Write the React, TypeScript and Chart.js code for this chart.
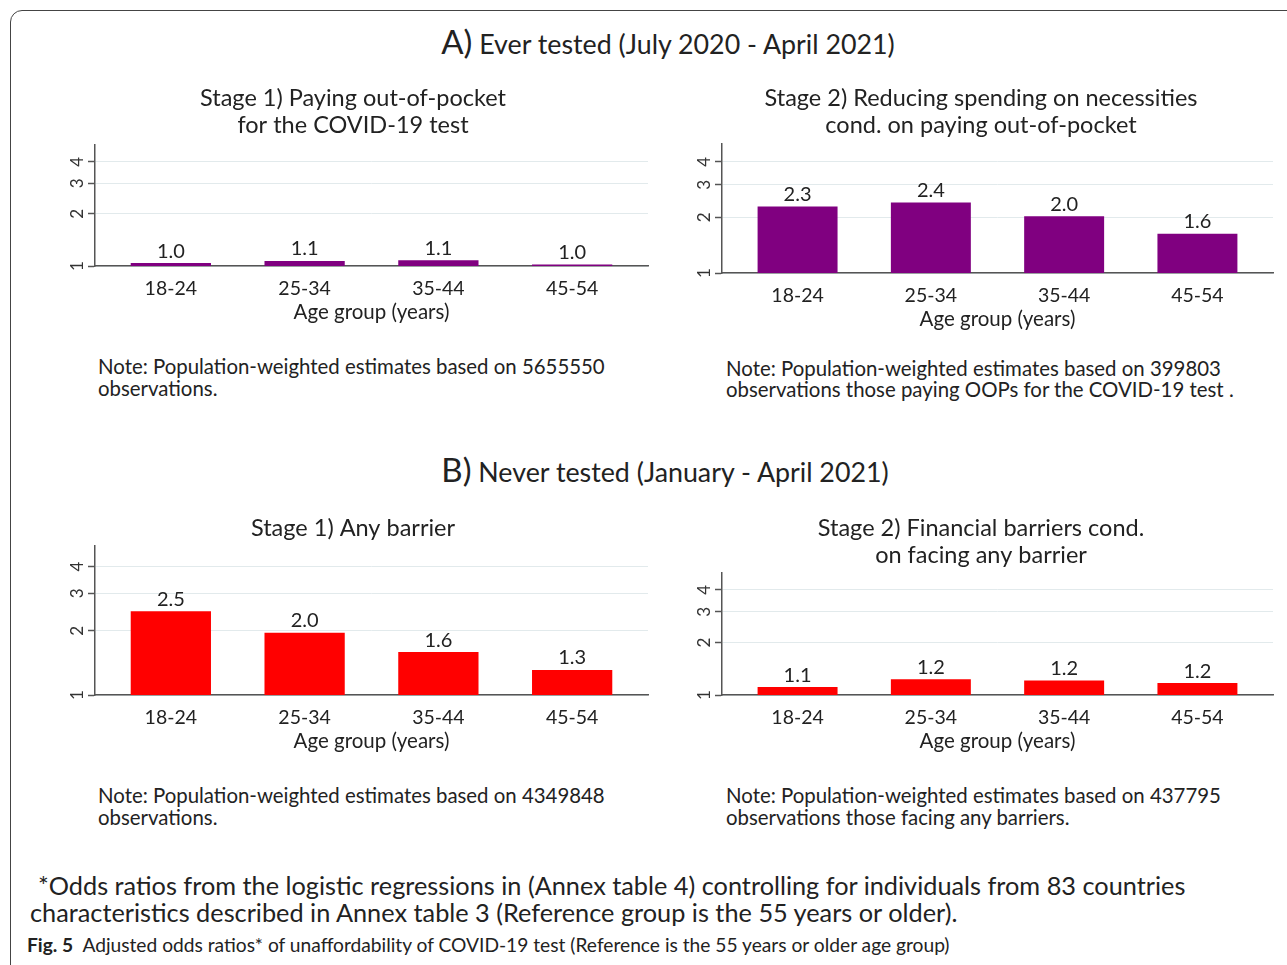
import React, { useEffect, useRef } from "react";
import { Chart, registerables } from "chart.js";

Chart.register(...registerables);

// ---- Data ----
const ageGroups = ["18-24", "25-34", "35-44", "45-54"];
const yTickValues = [1, 2, 3, 4];
const everTestedStage1 = [1.04, 1.07, 1.08, 1.02];
const everTestedStage2 = [2.29, 2.41, 2.03, 1.63];
const neverTestedStage1 = [2.47, 1.96, 1.59, 1.31];
const neverTestedStage2 = [1.11, 1.23, 1.21, 1.17];
const yMin = 1;
const yMax = 5;

const FONT = "Lato, 'Open Sans', sans-serif";
const TEXT = "#222";
const PURPLE = "#800080";
const RED = "#ff0000";

type Box = {
  x: number;
  y: number;
  w: number;
  h: number;
  yAxisW: number;
  padRight: number;
  titleTop: number;
  titleBottom: number;
};

function BarPanel({ values, color, title, box }: { values: number[]; color: string; title: string[]; box: Box }) {
  const ref = useRef<HTMLCanvasElement | null>(null);
  useEffect(() => {
    const labelPlugin = {
      id: "barLabels",
      afterDatasetsDraw(chart: any) {
        const ctx = chart.ctx;
        const meta = chart.getDatasetMeta(0);
        ctx.save();
        ctx.font = `20px ${FONT}`;
        ctx.fillStyle = TEXT;
        ctx.textAlign = "center";
        ctx.textBaseline = "middle";
        meta.data.forEach((bar: any, i: number) => {
          ctx.fillText(values[i].toFixed(1), bar.x, bar.y - 12);
        });
        ctx.restore();
      },
    };
    const chart = new Chart(ref.current as HTMLCanvasElement, {
      type: "bar",
      data: {
        datasets: [
          {
            data: values.map((v, i) => ({ x: i, y: v })),
            backgroundColor: color,
            borderWidth: 0,
            categoryPercentage: 1,
            barPercentage: 0.6,
          } as any,
        ],
      },
      options: {
        animation: false,
        responsive: false,
        maintainAspectRatio: false,
        layout: { padding: { left: 0, right: box.padRight, top: 0, bottom: 0 } },
        plugins: {
          legend: { display: false },
          tooltip: { enabled: false },
          title: {
            display: true,
            text: title,
            color: TEXT,
            font: { family: FONT, size: 23.5, lineHeight: 27 / 23.5, weight: "normal" as any },
            padding: { top: box.titleTop, bottom: box.titleBottom },
          },
        },
        scales: {
          x: {
            type: "linear",
            offset: false,
            min: -0.567,
            max: 3.567,
            afterBuildTicks: (s: any) => {
              s.ticks = ageGroups.map((_, i) => ({ value: i }));
            },
            afterFit: (s: any) => {
              s.height = 59;
            },
            grid: { display: false, drawTicks: false, offset: false },
            border: { display: true, color: "#555", width: 1.5 },
            ticks: {
              padding: 11,
              autoSkip: false,
              maxRotation: 0,
              color: TEXT,
              font: { family: FONT, size: 19.5 },
              callback: (v: any) => ageGroups[v as number] ?? "",
            },
            title: {
              display: true,
              text: "Age group (years)",
              color: TEXT,
              font: { family: FONT, size: 20.5 },
              padding: { top: 0, bottom: 0 },
            },
          } as any,
          y: {
            type: "logarithmic",
            min: yMin,
            max: yMax,
            afterBuildTicks: (s: any) => {
              s.ticks = yTickValues.map((v) => ({ value: v }));
            },
            afterFit: (s: any) => {
              s.width = box.yAxisW;
            },
            grid: { color: "#e2eaec", lineWidth: 1, tickColor: "#555", tickLength: 7, tickWidth: 1.5 },
            border: { display: true, color: "#555", width: 1.5 },
            ticks: {
              minRotation: 90,
              maxRotation: 90,
              crossAlign: "center",
              padding: 6,
              color: "#333",
              font: { family: FONT, size: 17 },
              callback: (v: any) => String(v),
            },
          } as any,
        },
      },
      plugins: [labelPlugin],
    });
    return () => chart.destroy();
  }, []);
  return (
    <canvas
      ref={ref}
      width={box.w}
      height={box.h}
      style={{ position: "absolute", left: box.x, top: box.y, width: box.w, height: box.h }}
    />
  );
}

const textStyle = (left: number, top: number, size: number, lh: number): React.CSSProperties => ({
  position: "absolute",
  left,
  top,
  fontFamily: FONT,
  fontSize: size,
  lineHeight: `${lh}px`,
  color: TEXT,
  whiteSpace: "nowrap",
});

function Heading({ big, rest, center, top }: { big: string; rest: string; center: number; top: number }) {
  return (
    <div
      style={{
        position: "absolute",
        left: center - 400,
        width: 800,
        top,
        textAlign: "center",
        fontFamily: FONT,
        color: TEXT,
        lineHeight: "40px",
        whiteSpace: "nowrap",
      }}
    >
      <span style={{ fontSize: 33 }}>{big}</span>
      <span style={{ fontSize: 26.8 }}> {rest}</span>
    </div>
  );
}

export default function App() {
  return (
    <div style={{ position: "absolute", left: 0, top: 0, width: 1287, height: 965, overflow: "hidden", background: "#fff" }}>
      <div
        style={{
          position: "absolute",
          left: 10,
          top: 10,
          width: 1320,
          height: 1000,
          border: "1px solid #444",
          borderRadius: 12,
          boxSizing: "border-box",
        }}
      />
      <Heading big="A)" rest="Ever tested (July 2020 - April 2021)" center={668} top={21} />
      <BarPanel
        values={everTestedStage1}
        color={PURPLE}
        title={["Stage 1) Paying out-of-pocket", "for the COVID-19 test"]}
        box={{ x: 58, y: 80, w: 600, h: 245, yAxisW: 37, padRight: 10, titleTop: 4.5, titleBottom: 6.5 }}
      />
      <BarPanel
        values={everTestedStage2}
        color={PURPLE}
        title={["Stage 2) Reducing spending on necessities", "cond. on paying out-of-pocket"]}
        box={{ x: 689, y: 80, w: 598, h: 252, yAxisW: 33, padRight: 14, titleTop: 4.5, titleBottom: 5.5 }}
      />
      <div style={textStyle(98, 355, 20.4, 22)}>
        Note: Population-weighted estimates based on 5655550
        <br />
        observations.
      </div>
      <div style={textStyle(726, 358, 20.4, 21)}>
        Note: Population-weighted estimates based on 399803
        <br />
        observations those paying OOPs for the COVID-19 test .
      </div>

      <Heading big="B)" rest="Never tested (January - April 2021)" center={665} top={449} />
      <BarPanel
        values={neverTestedStage1}
        color={RED}
        title={["Stage 1) Any barrier"]}
        box={{ x: 58, y: 510, w: 600, h: 244, yAxisW: 37, padRight: 10, titleTop: 4.5, titleBottom: 4.5 }}
      />
      <BarPanel
        values={neverTestedStage2}
        color={RED}
        title={["Stage 2) Financial barriers cond.", "on facing any barrier"]}
        box={{ x: 689, y: 510, w: 598, h: 244, yAxisW: 33, padRight: 14, titleTop: 4.5, titleBottom: 4.5 }}
      />
      <div style={textStyle(98, 784, 20.4, 22)}>
        Note: Population-weighted estimates based on 4349848
        <br />
        observations.
      </div>
      <div style={textStyle(726, 784, 20.4, 22)}>
        Note: Population-weighted estimates based on 437795
        <br />
        observations those facing any barriers.
      </div>

      <div style={textStyle(38, 871, 25.3, 28)}>
        *Odds ratios from the logistic regressions in (Annex table 4) controlling for individuals from 83 countries
      </div>
      <div style={textStyle(30, 898, 25.3, 28)}>
        characteristics described in Annex table 3 (Reference group is the 55 years or older).
      </div>
      <div style={textStyle(27, 934, 19.2, 22)}>
        <b>Fig. 5</b>&nbsp; Adjusted odds ratios* of unaffordability of COVID-19 test (Reference is the 55 years or older age group)
      </div>
    </div>
  );
}
